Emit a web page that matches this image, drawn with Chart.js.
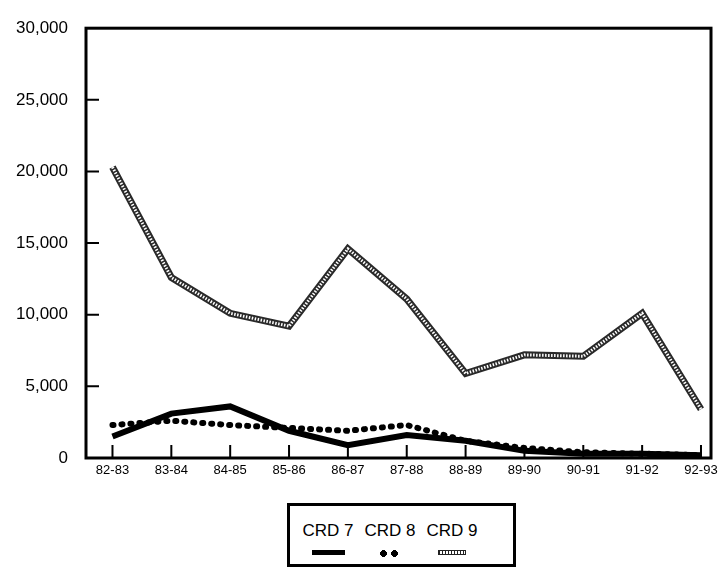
<!DOCTYPE html>
<html>
<head>
<meta charset="utf-8">
<script src="https://cdn.jsdelivr.net/npm/chart.js@4"></script>
<style>
    body { margin: 0; background: #fff; font-family: "Liberation Sans", Arial, sans-serif; }
    #wrap { position: relative; width: 724px; height: 569px; }
    #legend {
        position: absolute; left: 287px; top: 503px; width: 216px; height: 58px;
        border: 3px solid #000; display: flex; padding-left: 7px; box-sizing: content-box;
    }
    .col { width: 62px; display: flex; flex-direction: column; align-items: center; }
    .col span { font-size: 17px; margin-top: 15px; color: #000; }
    .col i { display: block; margin-top: 9px; }
</style>
</head>
<body>
<div id="wrap">
    <canvas id="chart" width="724" height="500"></canvas>
    <div id="legend"></div>
</div>
<script>
// Datos
const categories = ['82-83', '83-84', '84-85', '85-86', '86-87', '87-88', '88-89', '89-90', '90-91', '91-92', '92-93'];
const crd7 = [1500, 3100, 3600, 1900, 900, 1600, 1200, 500, 300, 300, 200];
const crd8 = [2300, 2600, 2300, 2100, 1900, 2300, 1200, 700, 400, 300, 200];
const crd9 = [20300, 12600, 10100, 9200, 14600, 11100, 5900, 7200, 7100, 10100, 3400];
const yTicks = [0, 5000, 10000, 15000, 20000, 25000, 30000];
const seriesNames = ['CRD 7', 'CRD 8', 'CRD 9'];

function points(values) {
    return values.map((v, i) => ({ x: i, y: v }));
}

// Marco y marcas hacia adentro
const framePlugin = {
    id: 'frame',
    afterDatasetsDraw(chart) {
        const { ctx, chartArea: a, scales: { x, y } } = chart;
        ctx.save();
        ctx.strokeStyle = '#000';
        ctx.lineWidth = 2;
        ctx.beginPath();
        yTicks.forEach(v => {
            if (v > 0 && v < 30000) {
                const py = y.getPixelForValue(v);
                ctx.moveTo(a.left, py);
                ctx.lineTo(a.left + 13, py);
            }
        });
        categories.forEach((c, i) => {
            const px = x.getPixelForValue(i);
            ctx.moveTo(px, a.bottom);
            ctx.lineTo(px, a.bottom - 13);
        });
        ctx.stroke();
        ctx.lineWidth = 3;
        ctx.strokeRect(a.left, a.top, a.right - a.left, a.bottom - a.top);
        ctx.restore();
    }
};

const chart = new Chart(document.getElementById('chart'), {
    type: 'line',
    data: {
        datasets: [
            {
                // línea blanca interior (se dibuja encima)
                label: 'CRD 9 inner',
                data: points(crd9),
                borderColor: '#ffffff',
                borderWidth: 3,
                borderDash: [1.5, 1.5],
                pointRadius: 0,
                tension: 0
            },
            {
                label: 'CRD 9',
                data: points(crd9),
                borderColor: '#2a2a2a',
                borderWidth: 7,
                pointRadius: 0,
                tension: 0
            },
            {
                label: 'CRD 8',
                data: points(crd8),
                borderColor: '#000',
                borderWidth: 6,
                borderDash: [1, 8],
                borderCapStyle: 'round',
                pointRadius: 0,
                tension: 0
            },
            {
                label: 'CRD 7',
                data: points(crd7),
                borderColor: '#000',
                borderWidth: 6,
                pointRadius: 0,
                tension: 0
            }
        ]
    },
    options: {
        responsive: false,
        animation: false,
        layout: { padding: { top: 17, right: 13, left: 0, bottom: 0 } },
        plugins: {
            legend: { display: false },
            tooltip: { enabled: false }
        },
        scales: {
            x: {
                type: 'linear',
                min: -0.45,
                max: 10.17,
                grid: { display: false, drawTicks: false },
                border: { display: false },
                afterBuildTicks: function(scale) {
                    scale.ticks = categories.map((c, i) => ({ value: i }));
                },
                afterFit: function(scale) { scale.height = 42; },
                ticks: {
                    padding: 5,
                    color: '#000',
                    maxRotation: 0,
                    autoSkip: false,
                    font: { family: '"Liberation Sans", Arial, sans-serif', size: 13 },
                    callback: function(value) { return categories[value]; }
                }
            },
            y: {
                min: 0,
                max: 30000,
                grid: { display: false, drawTicks: false },
                border: { display: false },
                afterBuildTicks: function(scale) {
                    scale.ticks = yTicks.map(v => ({ value: v }));
                },
                afterFit: function(scale) { scale.width = 86; },
                ticks: {
                    padding: 18,
                    color: '#000',
                    font: { family: '"Liberation Sans", Arial, sans-serif', size: 17 },
                    callback: function(value) { return value.toLocaleString('en-US'); }
                }
            }
        }
    },
    plugins: [framePlugin]
});

// Leyenda en caja con texto arriba y muestra de línea abajo
const sampleStyles = {
    'CRD 7': 'width:33px;height:5px;background:#000;',
    'CRD 8': 'width:20px;height:7px;background:radial-gradient(circle at 3.5px 3.5px,#000 3.3px,transparent 3.6px) 0 0/11px 7px repeat-x;',
    'CRD 9': 'width:26px;height:3px;border:1px solid #222;background:repeating-linear-gradient(90deg,#222 0 1px,#fff 1px 3px);'
};
const legend = document.getElementById('legend');
seriesNames.forEach(name => {
    const col = document.createElement('div');
    col.className = 'col';
    col.innerHTML = '<span>' + name + '</span><i style="' + sampleStyles[name] + '"></i>';
    legend.appendChild(col);
});
</script>
</body>
</html>
